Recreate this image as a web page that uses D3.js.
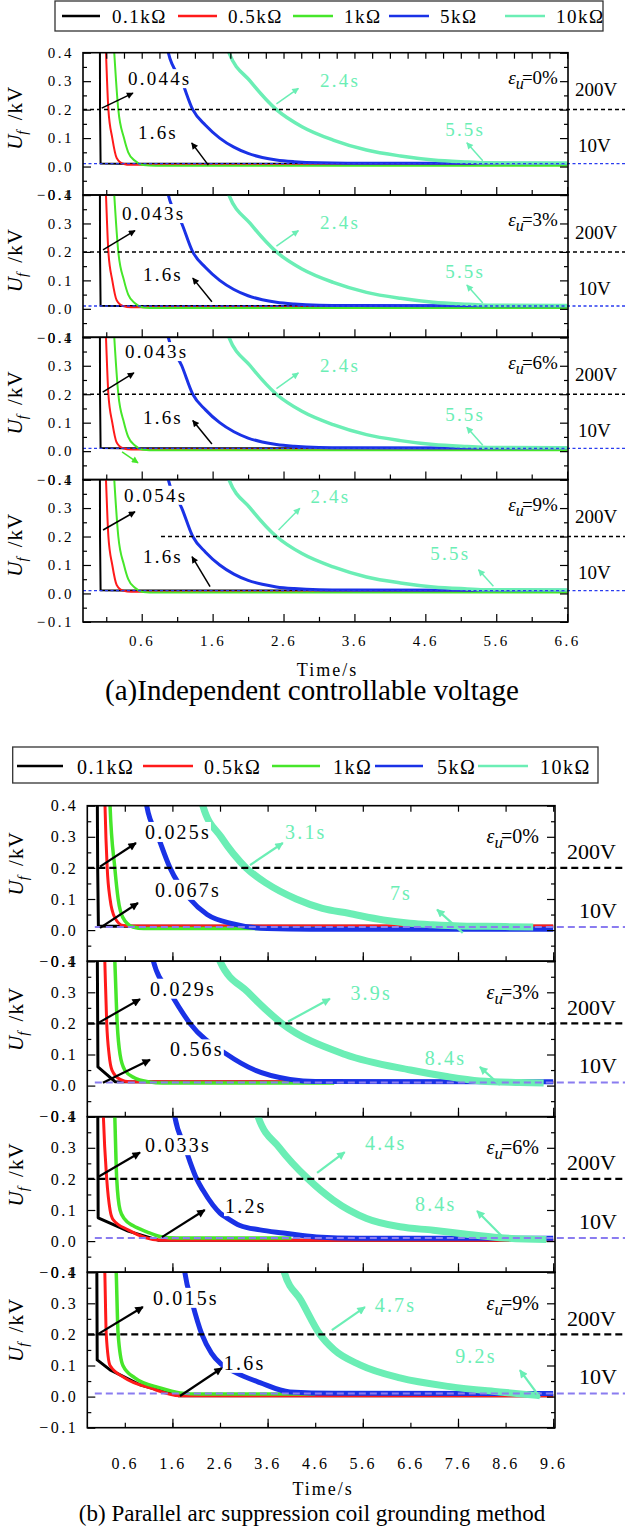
<!DOCTYPE html>
<html lang="en">
<head>
<meta charset="UTF-8">
<title>Uf decay</title>
<script src="https://cdn.jsdelivr.net/npm/d3@7"></script>
<style>
  body { margin: 0; background: #fff; }
  svg { display: block; }
  text { white-space: pre; }
</style>
</head>
<body>
<svg id="chart" width="625" height="1528" font-family="Liberation Serif, Times New Roman, serif"></svg>
<script>
// ---------- data ----------
var names = ["0.1kΩ", "0.5kΩ", "1kΩ", "5kΩ", "10kΩ"];
var colors = ["#000000", "#ff1a1a", "#46e62a", "#1a32e6", "#6beeb5"];
var epsValues = ["0%", "3%", "6%", "9%"];

var yMajor = [-0.1, 0, 0.1, 0.2, 0.3, 0.4];
var yMinor = [-0.05, 0.05, 0.15, 0.25, 0.35];
var aTimeLabels = [0.6, 1.6, 2.6, 3.6, 4.6, 5.6, 6.6];
var aTimeMinor = [0.1, 1.1, 2.1, 3.1, 4.1, 5.1, 6.1];
var bTimeLabels = [0.6, 1.6, 2.6, 3.6, 4.6, 5.6, 6.6, 7.6, 8.6, 9.6];
var bTimeLong = [1.6, 3.6, 5.6, 7.6, 9.6];

var limit200 = 0.2;   // kV
var limit10 = 0.01;   // kV

// (a) curves [time s, Uf kV] - the four ε panels look the same
var aBlack = [[0.010, 0.50], [0.012, 0.20], [0.02, 0.011], [0.3, 0.010], [6.6, 0.010]];
var aRed = [[0.08, 0.50], [0.096, 0.40], [0.13, 0.20], [0.185, 0.10], [0.247, 0.03], [0.336, 0.01], [0.45, 0.006], [6.6, 0.005]];
var aGreen = [[0.19, 0.50], [0.213, 0.40], [0.27, 0.20], [0.35, 0.10], [0.41, 0.05], [0.505, 0.02], [0.62, 0.005], [0.8, 0.003], [6.6, 0.003]];
var aBlue = [[0.9, 0.5], [0.975, 0.40], [1.165, 0.30], [1.32, 0.20], [1.5, 0.145], [1.7, 0.10], [1.9, 0.068], [2.1, 0.046], [2.3, 0.032], [2.5, 0.023], [2.75, 0.017], [3.1, 0.013], [3.5, 0.012], [6.6, 0.011]];
var aAqua = [[1.7, 0.5], [1.83, 0.40], [2.13, 0.30], [2.5, 0.20], [2.86, 0.14], [3.3, 0.093], [3.77, 0.058], [4.25, 0.037], [4.71, 0.023], [5.19, 0.016], [5.47, 0.013], [6.6, 0.012]];

// (b) curves per ε panel: black, red, green, blue, aqua
var b1Curves = [
  [[0.02, 0.5], [0.03, 0.2], [0.045, 0.013], [0.3, 0.012], [9.6, 0.012]],
  [[0.17, 0.5], [0.184, 0.4], [0.23, 0.2], [0.29, 0.1], [0.39, 0.04], [0.56, 0.015], [0.8, 0.013], [9.6, 0.013]],
  [[0.27, 0.5], [0.29, 0.4], [0.39, 0.2], [0.46, 0.1], [0.56, 0.04], [0.77, 0.01], [1.0, 0.005], [4.6, 0.005]],
  [[1.0, 0.5], [1.06, 0.4], [1.3, 0.3], [1.55, 0.2], [1.97, 0.1], [2.33, 0.05], [2.88, 0.02], [3.59, 0.005], [4.5, 0.003], [9.6, 0.003]],
  [[2.1, 0.5], [2.24, 0.4], [2.62, 0.3], [3.15, 0.2], [3.58, 0.15], [4.2, 0.1], [4.75, 0.07], [5.3, 0.054], [6.03, 0.0325], [6.59, 0.022], [7.07, 0.017], [7.64, 0.013], [8.2, 0.012], [9.18, 0.01]]
];
var b2Curves = [
  [[0.02, 0.5], [0.035, 0.06], [0.4, 0.012], [9.6, 0.01]],
  [[0.16, 0.5], [0.18, 0.4], [0.22, 0.2], [0.27, 0.1], [0.33, 0.05], [0.5, 0.02], [0.7, 0.012], [9.6, 0.012]],
  [[0.36, 0.5], [0.39, 0.4], [0.44, 0.2], [0.5, 0.1], [0.6, 0.05], [0.8, 0.025], [1.1, 0.012], [1.4, 0.008], [5.0, 0.008]],
  [[1.1, 0.5], [1.2, 0.4], [1.55, 0.3], [1.97, 0.2], [2.75, 0.1], [3.33, 0.05], [4.07, 0.02], [4.6, 0.013], [9.6, 0.012]],
  [[2.45, 0.5], [2.6, 0.4], [3.19, 0.3], [3.9, 0.2], [5.23, 0.1], [6.6, 0.05], [7.33, 0.03], [8.06, 0.015], [8.9, 0.01], [9.4, 0.008]]
];
var b3Curves = [
  [[0.03, 0.5], [0.04, 0.075], [0.67, 0.032], [1.3, 0.003], [9.6, 0.003]],
  [[0.13, 0.5], [0.15, 0.4], [0.22, 0.2], [0.29, 0.1], [0.35, 0.07], [0.67, 0.036], [1.34, 0.003], [9.6, 0.003]],
  [[0.37, 0.5], [0.39, 0.4], [0.43, 0.2], [0.5, 0.1], [0.6, 0.07], [0.77, 0.05], [1.06, 0.03], [1.34, 0.015], [1.7, 0.01], [4.1, 0.01]],
  [[1.55, 0.5], [1.65, 0.4], [1.87, 0.3], [1.97, 0.255], [2.11, 0.2], [2.24, 0.164], [2.45, 0.116], [2.6, 0.09], [2.75, 0.074], [3.02, 0.05], [3.44, 0.036], [3.93, 0.026], [4.63, 0.013], [5.5, 0.009], [9.6, 0.009]],
  [[3.25, 0.5], [3.4, 0.4], [3.85, 0.3], [4.45, 0.2], [4.98, 0.132], [5.68, 0.073], [6.38, 0.046], [7.08, 0.035], [7.78, 0.022], [8.48, 0.011], [9.46, 0.005]]
];
var b4Curves = [
  [[0.01, 0.5], [0.02, 0.118], [0.29, 0.086], [0.92, 0.038], [1.72, 0.003], [9.6, 0.003]],
  [[0.16, 0.5], [0.18, 0.4], [0.21, 0.2], [0.29, 0.1], [0.6, 0.06], [1.13, 0.028], [1.76, 0.003], [9.6, 0.003]],
  [[0.4, 0.5], [0.42, 0.4], [0.46, 0.2], [0.56, 0.1], [0.81, 0.06], [1.34, 0.028], [1.76, 0.012], [2.2, 0.008], [4.6, 0.008]],
  [[1.78, 0.5], [1.86, 0.4], [2.02, 0.3], [2.22, 0.2], [2.42, 0.14], [2.62, 0.105], [2.92, 0.078], [3.44, 0.045], [4.07, 0.015], [5.0, 0.011], [9.6, 0.01]],
  [[3.8, 0.5], [3.95, 0.4], [4.3, 0.31], [4.7, 0.2], [5.0, 0.15], [5.54, 0.102], [6.38, 0.06], [7.43, 0.032], [8.48, 0.015], [9.32, 0.003]]
];

// annotations: [t, Uf, text, colour index] and arrows [t1, U1, t2, U2, colour index]
var aLabels = [
  [[0.408, 0.286, "0.044s", 0], [0.548, 0.097, "1.6s", 0], [3.115, 0.279, "2.4s", 4], [4.88, 0.107, "5.5s", 4]],
  [[0.322, 0.312, "0.043s", 0], [0.618, 0.097, "1.6s", 0], [3.115, 0.279, "2.4s", 4], [4.88, 0.107, "5.5s", 4]],
  [[0.365, 0.327, "0.043s", 0], [0.618, 0.095, "1.6s", 0], [3.115, 0.279, "2.4s", 4], [4.88, 0.107, "5.5s", 4]],
  [[0.35, 0.322, "0.054s", 0], [0.618, 0.108, "1.6s", 0], [2.98, 0.317, "2.4s", 4], [4.67, 0.117, "5.5s", 4]]
];
var aArrows = [
  [[0.036, 0.205, 0.477, 0.258, 0], [1.54, 0.005, 1.305, 0.083, 0], [2.5, 0.22, 2.81, 0.275, 4], [5.41, 0.0205, 5.185, 0.084, 4]],
  [[0.054, 0.207, 0.505, 0.275, 0], [1.59, 0.025, 1.32, 0.108, 0], [2.5, 0.22, 2.81, 0.275, 4], [5.41, 0.0205, 5.185, 0.084, 4]],
  [[0.05, 0.207, 0.49, 0.275, 0], [1.59, 0.025, 1.32, 0.108, 0], [2.5, 0.22, 2.81, 0.275, 4], [5.41, 0.0205, 5.185, 0.084, 4], [0.323, -0.003, 0.548, -0.041, 2]],
  [[0.055, 0.223, 0.505, 0.287, 0], [1.564, 0.024, 1.31, 0.129, 0], [2.53, 0.223, 2.83, 0.299, 4], [5.56, 0.025, 5.35, 0.083, 4]]
];
var aDashStart = [null, null, null, 0.872];

var bLabels = [
  [[1.024, 0.293, "0.025s", 0], [1.234, 0.107, "0.067s", 0], [3.966, 0.292, "3.1s", 4], [6.17, 0.097, "7s", 4]],
  [[1.13, 0.289, "0.029s", 0], [1.55, 0.094, "0.56s", 0], [5.34, 0.276, "3.9s", 4], [6.9, 0.067, "8.4s", 4]],
  [[1.024, 0.286, "0.033s", 0], [2.705, 0.09, "1.2s", 0], [5.645, 0.292, "4.4s", 4], [6.696, 0.097, "8.4s", 4]],
  [[1.19, 0.295, "0.015s", 0], [2.68, 0.086, "1.6s", 0], [5.85, 0.272, "4.7s", 4], [7.54, 0.108, "9.2s", 4]]
];
var bArrows = [
  [[0.079, 0.204, 0.835, 0.28, 0], [0.079, 0.007, 0.877, 0.087, 0], [3.23, 0.209, 3.92, 0.28, 4], [7.7, -0.009, 7.16, 0.066, 4]],
  [[0.037, 0.201, 0.92, 0.278, 0], [0.14, 0.009, 1.13, 0.083, 0], [4.03, 0.206, 4.91, 0.279, 4], [8.48, 0.002, 8.06, 0.06, 4]],
  [[0.037, 0.206, 0.92, 0.285, 0], [1.38, 0.013, 2.28, 0.1, 0], [4.64, 0.219, 5.22, 0.286, 4], [8.54, 0.013, 8.0, 0.097, 4]],
  [[0.037, 0.201, 0.98, 0.288, 0], [1.76, 0.002, 2.64, 0.092, 0], [4.95, 0.214, 5.645, 0.288, 4], [9.32, -0.002, 8.9, 0.085, 4]]
];

// ---------- layout ----------
var W = 625;
var figA = {
  id: "a", left: 83, right: 568, top: 52.7, ph: 142.3, tDomain: [-0.228, 6.612],
  widths: [2, 2, 2, 3, 3.5], tickFont: 15, noteFont: 19, arrowW: 1.5, head: 9,
  dashW: 1.5, dash: "4,3", lowColor: "#2a3cf0", lowW: 1.3, lowDash: "3,2.5", lowStart: null,
  epsT: 6.47, epsV: 0.29, epsFont: 19,
  v200: [575, 43.5, 19], v10: [578, 99.5, 19],
  titleX: 22, titleDy: -6, titleFont: 21, xPad: 13, timeBase: 54
};
var figB = {
  id: "b", left: 87.3, right: 555, top: 805.7, ph: 155.5, tDomain: [-0.188, 9.638],
  widths: [3, 3, 3.5, 5, 7], tickFont: 16, noteFont: 20, arrowW: 2.2, head: 11,
  dashW: 2.2, dash: "7,4", lowColor: "#8a7cf0", lowW: 2, lowDash: "7,4", lowStart: -0.03,
  epsT: 9.3, epsV: 0.279, epsFont: 20,
  v200: [567, 53.5, 22], v10: [579, 112, 22],
  titleX: 23, titleDy: -20, titleFont: 21, xPad: 30, timeBase: 67
};

var svg = d3.select("#chart");
var defs = svg.append("defs");

function marker(id, color, size) {
  defs.append("marker").attr("id", id)
    .attr("viewBox", "0 0 10 10").attr("refX", 9).attr("refY", 5)
    .attr("markerUnits", "userSpaceOnUse")
    .attr("markerWidth", size).attr("markerHeight", size * 0.75)
    .attr("orient", "auto")
    .append("path").attr("d", "M0,0L10,5L0,10z").attr("fill", color);
}
[0, 2, 4].forEach(function (i) {
  marker("ha" + i, colors[i], figA.head);
  marker("hb" + i, colors[i], figB.head);
});

function styleAxis(g, f) {
  g.select(".domain").remove();
  g.attr("font-family", null).attr("font-size", f.tickFont);
  g.selectAll("line").attr("stroke", "#000").attr("stroke-width", 1.2);
  g.selectAll("text").attr("fill", "#000").attr("letter-spacing", 2.5);
}

function drawPanel(f, k, curves, labels, arrows, eps, dashStart, last) {
  var top = f.top + k * f.ph, bottom = top + f.ph;
  var x = d3.scaleLinear().domain(f.tDomain).range([f.left, f.right]);
  var y = d3.scaleLinear().domain([-0.1, 0.4]).range([bottom, top]);
  var g = svg.append("g");

  var cid = "clip-" + f.id + k;
  defs.append("clipPath").attr("id", cid).append("rect")
    .attr("x", f.left).attr("y", top).attr("width", f.right - f.left).attr("height", f.ph);

  // curves
  var smooth = d3.line().x(function (d) { return x(d[0]); }).y(function (d) { return y(d[1]); }).curve(d3.curveMonotoneX);
  var straight = d3.line().x(function (d) { return x(d[0]); }).y(function (d) { return y(d[1]); });
  g.append("g").attr("clip-path", "url(#" + cid + ")")
    .selectAll("path").data(curves).join("path")
    .attr("d", function (d, i) { return i === 0 ? straight(d) : smooth(d); })
    .attr("fill", "none")
    .attr("stroke", function (d, i) { return colors[i]; })
    .attr("stroke-width", function (d, i) { return f.widths[i]; })
    .attr("stroke-linejoin", "round");

  // threshold lines
  g.append("line")
    .attr("x1", dashStart == null ? f.left : x(dashStart)).attr("x2", W)
    .attr("y1", y(limit200)).attr("y2", y(limit200))
    .attr("stroke", "#000").attr("stroke-width", f.dashW).attr("stroke-dasharray", f.dash);
  g.append("line")
    .attr("x1", f.lowStart == null ? f.left : x(f.lowStart)).attr("x2", W)
    .attr("y1", y(limit10)).attr("y2", y(limit10))
    .attr("stroke", f.lowColor).attr("stroke-width", f.lowW).attr("stroke-dasharray", f.lowDash);

  // axes (ticks inward)
  var gl = g.append("g").attr("transform", "translate(" + f.left + ",0)")
    .call(d3.axisLeft(y).tickValues(yMajor).tickSize(-8).tickPadding(9).tickFormat(d3.format(".1f")));
  styleAxis(gl, f);
  var gm = g.append("g").attr("transform", "translate(" + f.left + ",0)")
    .call(d3.axisLeft(y).tickValues(yMinor).tickSize(-4).tickFormat(""));
  styleAxis(gm, f);
  var gr = g.append("g").attr("transform", "translate(" + f.right + ",0)")
    .call(d3.axisRight(y).tickValues(yMajor).tickSize(-8).tickFormat(""));
  styleAxis(gr, f);
  var grm = g.append("g").attr("transform", "translate(" + f.right + ",0)")
    .call(d3.axisRight(y).tickValues(yMinor).tickSize(-4).tickFormat(""));
  styleAxis(grm, f);

  var fmt = d3.format(".1f");
  if (f.id === "a") {
    var gb = g.append("g").attr("transform", "translate(0," + bottom + ")")
      .call(d3.axisBottom(x).tickValues(aTimeLabels).tickSize(-8).tickPadding(f.xPad).tickFormat(last ? fmt : ""));
    styleAxis(gb, f);
    var gbm = g.append("g").attr("transform", "translate(0," + bottom + ")")
      .call(d3.axisBottom(x).tickValues(aTimeMinor).tickSize(-5).tickFormat(""));
    styleAxis(gbm, f);
    if (k === 0) {
      var gt = g.append("g").attr("transform", "translate(0," + top + ")")
        .call(d3.axisTop(x).tickValues(d3.range(0.1, 6.61, 0.25)).tickSize(-6).tickFormat(""));
      styleAxis(gt, f);
    }
  } else {
    var gb2 = g.append("g").attr("transform", "translate(0," + bottom + ")")
      .call(d3.axisBottom(x).tickValues(bTimeLabels).tickSize(-5).tickPadding(f.xPad).tickFormat(last ? fmt : ""));
    styleAxis(gb2, f);
    var gbl = g.append("g").attr("transform", "translate(0," + bottom + ")")
      .call(d3.axisBottom(x).tickValues(bTimeLong).tickSize(-9).tickFormat(""));
    styleAxis(gbl, f);
    if (k === 0) {
      var gt2 = g.append("g").attr("transform", "translate(0," + top + ")")
        .call(d3.axisTop(x).tickValues(bTimeLabels).tickSize(-6).tickFormat(""));
      styleAxis(gt2, f);
    }
  }

  g.append("rect").attr("x", f.left).attr("y", top).attr("width", f.right - f.left).attr("height", f.ph)
    .attr("fill", "none").attr("stroke", "#000").attr("stroke-width", 1.6);

  // annotation labels with white boxes
  labels.forEach(function (d) {
    var t = g.append("text").attr("x", x(d[0])).attr("y", y(d[1]))
      .attr("font-size", f.noteFont).attr("letter-spacing", 2.2)
      .attr("fill", colors[d[3]]).text(d[2]);
    var bb = t.node().getBBox();
    g.insert("rect", function () { return t.node(); })
      .attr("x", bb.x - 1).attr("y", bb.y + 1).attr("width", bb.width + 1).attr("height", bb.height - 2)
      .attr("fill", "#fff");
  });
  arrows.forEach(function (d) {
    g.append("line").attr("x1", x(d[0])).attr("y1", y(d[1])).attr("x2", x(d[2])).attr("y2", y(d[3]))
      .attr("stroke", colors[d[4]]).attr("stroke-width", f.arrowW)
      .attr("marker-end", "url(#h" + f.id + d[4] + ")");
  });

  // epsilon label
  var e = g.append("text").attr("x", x(f.epsT)).attr("y", y(f.epsV))
    .attr("text-anchor", "end").attr("font-size", f.epsFont);
  e.append("tspan").attr("font-style", "italic").text("ε");
  e.append("tspan").attr("font-style", "italic").attr("font-size", f.epsFont * 0.85).attr("dy", 5).text("u");
  e.append("tspan").attr("dy", -5).attr("dx", -2).text("=" + eps);

  // right-side threshold names
  g.append("text").attr("x", f.v200[0]).attr("y", top + f.v200[1]).attr("font-size", f.v200[2]).text("200V");
  g.append("text").attr("x", f.v10[0]).attr("y", top + f.v10[1]).attr("font-size", f.v10[2]).text("10V");

  // y title
  var ty = g.append("text")
    .attr("transform", "translate(" + f.titleX + "," + (top + f.ph / 2 + f.titleDy) + ") rotate(-90)")
    .attr("text-anchor", "middle").attr("font-size", f.titleFont);
  ty.append("tspan").attr("font-style", "italic").text("U");
  ty.append("tspan").attr("font-style", "italic").attr("font-size", f.titleFont * 0.7).attr("dy", 5).text("f");
  ty.append("tspan").attr("dy", -5).attr("dx", 4).attr("letter-spacing", 1).text(" /kV");

  if (last) {
    svg.append("text").attr("x", (f.left + f.right) / 2 + 2).attr("y", bottom + f.timeBase)
      .attr("text-anchor", "middle").attr("font-size", 18).attr("letter-spacing", 2).text("Time/s");
  }
}

var aCurves = [aBlack, aRed, aGreen, aBlue, aAqua];
for (var k = 0; k < 4; k++) {
  drawPanel(figA, k, aCurves, aLabels[k], aArrows[k], epsValues[k], aDashStart[k], k === 3);
}
var bCurves = [b1Curves, b2Curves, b3Curves, b4Curves];
for (var j = 0; j < 4; j++) {
  drawPanel(figB, j, bCurves[j], bLabels[j], bArrows[j], epsValues[j], null, j === 3);
}

// legends
function legend(box, items, lineY, textY, fontSize) {
  var lg = svg.append("g");
  lg.append("rect").attr("x", box[0]).attr("y", box[1]).attr("width", box[2]).attr("height", box[3])
    .attr("fill", "#fff").attr("stroke", "#333").attr("stroke-width", 1.3);
  lg.selectAll("line").data(items).join("line")
    .attr("x1", function (d) { return d[0]; }).attr("x2", function (d) { return d[1]; })
    .attr("y1", lineY).attr("y2", lineY)
    .attr("stroke", function (d, i) { return colors[i]; }).attr("stroke-width", 2.5);
  lg.selectAll("text").data(items).join("text")
    .attr("x", function (d) { return d[2]; }).attr("y", textY)
    .attr("font-size", fontSize).attr("letter-spacing", 1.5)
    .text(function (d, i) { return names[i]; });
}
legend([55, 1, 548, 30], [[62, 100, 112], [178, 217, 228], [293, 333, 344], [389, 429, 440], [505, 545, 556]], 16, 23, 19);
legend([12.7, 747, 585.3, 36], [[17, 63, 77], [143, 193, 204], [272, 320, 333], [375, 423, 437], [478, 528, 540]], 766, 774, 20);

// captions
svg.append("text").attr("x", 312).attr("y", 700).attr("text-anchor", "middle").attr("font-size", 29)
  .text("(a)Independent controllable voltage");
svg.append("text").attr("x", 312).attr("y", 1521).attr("text-anchor", "middle").attr("font-size", 23)
  .text("(b) Parallel arc suppression coil grounding method");
</script>
</body>
</html>
